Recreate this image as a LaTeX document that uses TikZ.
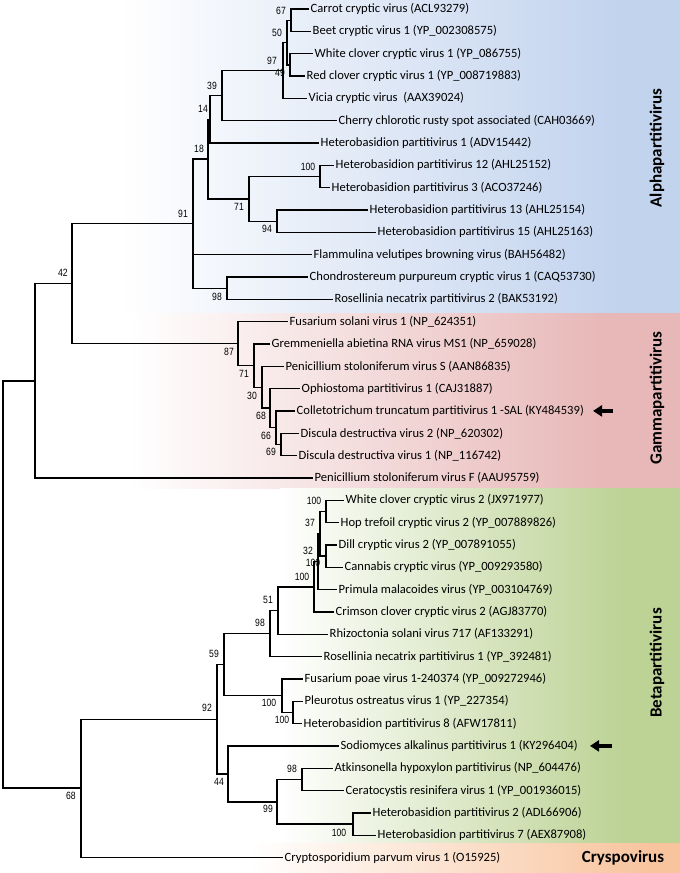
\documentclass[tikz,border=0pt]{standalone}
\usepackage{fontspec}
\setmainfont{Carlito}
\newfontfamily\bsfont[FakeStretch=0.82]{Liberation Sans}
\usetikzlibrary{arrows.meta}

\definecolor{alphablue}{RGB}{194,211,238}
\definecolor{gammapink}{RGB}{232,184,184}
\definecolor{betagreen}{RGB}{189,211,150}
\definecolor{cryspoorange}{RGB}{248,196,158}

\begin{document}
\begin{tikzpicture}[
    x=1pt, y=-1pt,
    >=Stealth,
    branch/.style={draw=black, line width=1.4pt, line cap=rect},
    taxon/.style={anchor=west, inner xsep=2.5pt, inner ysep=0pt, font=\fontsize{12.6}{14}\selectfont},
    bs/.style={inner sep=0pt, font=\bsfont\fontsize{10.5}{11}\selectfont},
    clade/.style={font=\fontsize{17}{18}\selectfont\bfseries},
    pointer/.style={-{Triangle[length=9pt, width=11pt]}, line width=3.5pt}
]
\useasboundingbox (0,0) rectangle (680,873);

% --- Background bands for the genera ---
\shade[left color=white, right color=alphablue] (120,0) rectangle (620,313);
\fill[alphablue] (620,0) rectangle (680,313);
\shade[left color=white, right color=gammapink] (130,313) rectangle (600,488);
\fill[gammapink] (600,313) rectangle (680,488);
\shade[left color=white, right color=betagreen] (280,488) rectangle (620,843);
\fill[betagreen] (620,488) rectangle (680,843);
\shade[left color=white, right color=cryspoorange] (250,843) rectangle (650,873);
\fill[cryspoorange] (650,843) rectangle (680,873);

% --- Taxa: Alphapartitivirus ---
\node[taxon] (carrot) at (308,9.0) {Carrot cryptic virus (ACL93279)};
\node[taxon] (beet) at (310,31.3) {Beet cryptic virus 1 (YP\_002308575)};
\node[taxon] (whiteA) at (312,53.7) {White clover cryptic virus 1 (YP\_086755)};
\node[taxon] (redA) at (304,76.0) {Red clover cryptic virus 1 (YP\_008719883)};
\node[taxon] (vicia) at (306,98.3) {Vicia cryptic virus~ (AAX39024)};
\node[taxon] (cherry) at (336,120.7) {Cherry chlorotic rusty spot associated (CAH03669)};
\node[taxon] (hetA) at (318,143.0) {Heterobasidion partitivirus 1 (ADV15442)};
\node[taxon] (hetL) at (333,165.3) {Heterobasidion partitivirus 12 (AHL25152)};
\node[taxon] (hetC) at (329,187.6) {Heterobasidion partitivirus 3 (ACO37246)};
\node[taxon] (hetM) at (367,210.0) {Heterobasidion partitivirus 13 (AHL25154)};
\node[taxon] (hetO) at (375,232.3) {Heterobasidion partitivirus 15 (AHL25163)};
\node[taxon] (flamm) at (311,254.6) {Flammulina velutipes browning virus (BAH56482)};
\node[taxon] (chondro) at (307,277.0) {Chondrostereum purpureum cryptic virus 1 (CAQ53730)};
\node[taxon] (rosB) at (332,299.3) {Rosellinia necatrix partitivirus 2 (BAK53192)};

% --- Taxa: Gammapartitivirus ---
\node[taxon] (fusS) at (287,321.6) {Fusarium solani virus 1 (NP\_624351)};
\node[taxon] (gremm) at (269,344.0) {Gremmeniella abietina RNA virus MS1 (NP\_659028)};
\node[taxon] (penS) at (283,366.3) {Penicillium stoloniferum virus S (AAN86835)};
\node[taxon] (ophio) at (299,388.6) {Ophiostoma partitivirus 1 (CAJ31887)};
\node[taxon] (colleto) at (294,410.9) {Colletotrichum truncatum partitivirus 1 -SAL (KY484539)};
\node[taxon] (discB) at (298,433.3) {Discula destructiva virus 2 (NP\_620302)};
\node[taxon] (discA) at (296,455.6) {Discula destructiva virus 1 (NP\_116742)};
\node[taxon] (penF) at (312,477.9) {Penicillium stoloniferum virus F (AAU95759)};

% --- Taxa: Betapartitivirus ---
\node[taxon] (whiteB) at (343,500.3) {White clover cryptic virus 2 (JX971977)};
\node[taxon] (hop) at (338,522.6) {Hop trefoil cryptic virus 2 (YP\_007889826)};
\node[taxon] (dill) at (336,544.9) {Dill cryptic virus 2 (YP\_007891055)};
\node[taxon] (cannabis) at (342,567.3) {Cannabis cryptic virus (YP\_009293580)};
\node[taxon] (primula) at (336,589.6) {Primula malacoides virus (YP\_003104769)};
\node[taxon] (crimson) at (333,611.9) {Crimson clover cryptic virus 2 (AGJ83770)};
\node[taxon] (rhizo) at (327,634.2) {Rhizoctonia solani virus 717 (AF133291)};
\node[taxon] (rosA) at (321,656.6) {Rosellinia necatrix partitivirus 1 (YP\_392481)};
\node[taxon] (fusP) at (302,678.9) {Fusarium poae virus 1-240374 (YP\_009272946)};
\node[taxon] (pleur) at (302,701.2) {Pleurotus ostreatus virus 1 (YP\_227354)};
\node[taxon] (hetH) at (301,723.6) {Heterobasidion partitivirus 8 (AFW17811)};
\node[taxon] (sodio) at (338,745.9) {Sodiomyces alkalinus partitivirus 1 (KY296404)};
\node[taxon] (atk) at (332,768.2) {Atkinsonella hypoxylon partitivirus (NP\_604476)};
\node[taxon] (cerato) at (343,790.5) {Ceratocystis resinifera virus 1 (YP\_001936015)};
\node[taxon] (hetB) at (370,812.9) {Heterobasidion partitivirus 2 (ADL66906)};
\node[taxon] (hetG) at (375,835.2) {Heterobasidion partitivirus 7 (AEX87908)};

% --- Taxa: Cryspovirus ---
\node[taxon] (crypto) at (282,857.5) {Cryptosporidium parvum virus 1 (O15925)};

% --- Internal nodes ---
\coordinate (a67) at (291,20.2);
\coordinate (a49) at (290,64.8);
\coordinate (a50) at (287,42.5);
\coordinate (a97) at (283,70.4);
\coordinate (a39) at (222,95.6);
\coordinate (a14) at (210,119.3);
\coordinate (a100) at (320,176.5);
\coordinate (a94) at (277,221.2);
\coordinate (a71) at (249,198.8);
\coordinate (a18) at (208,159.0);
\coordinate (a98) at (227,288.2);
\coordinate (a91) at (193,223.6);

\coordinate (g69) at (281,444.4);
\coordinate (g66) at (276,427.7);
\coordinate (g68) at (270,408.1);
\coordinate (g30) at (262,387.2);
\coordinate (g71) at (254,365.6);
\coordinate (g87) at (238,343.6);
\coordinate (n42) at (72,283.6);
\coordinate (n35) at (35,380.8);

\coordinate (b100a) at (326,511.4);
\coordinate (b100b) at (326,556.1);
\coordinate (b37) at (320,533.8);
\coordinate (b32) at (318,561.7);
\coordinate (b100c) at (314,586.8);
\coordinate (b51) at (278,610.5);
\coordinate (b98) at (270,633.6);
\coordinate (b100e) at (293,712.4);
\coordinate (b100d) at (282,695.7);
\coordinate (b59) at (224,664.7);
\coordinate (b98b) at (302,779.4);
\coordinate (b100f) at (353,824.1);
\coordinate (b99) at (277,801.8);
\coordinate (b44) at (228,773.9);
\coordinate (b92) at (217,719.3);
\coordinate (b68) at (81,788.4);
\coordinate (root) at (3,584.6);

% --- Branches ---
\draw[branch] (a67) |- (carrot.west) (a67) |- (beet.west);
\draw[branch] (a49) |- (whiteA.west) (a49) |- (redA.west);
\draw[branch] (a50) |- (a67) (a50) |- (a49);
\draw[branch] (a97) |- (a50) (a97) |- (vicia.west);
\draw[branch] (a39) |- (a97) (a39) |- (cherry.west);
\draw[branch] (a14) |- (a39) (a14) |- (hetA.west);
\draw[branch] (a100) |- (hetL.west) (a100) |- (hetC.west);
\draw[branch] (a94) |- (hetM.west) (a94) |- (hetO.west);
\draw[branch] (a71) |- (a100) (a71) |- (a94);
\draw[branch] (a18) |- (a14) (a18) |- (a71);
\draw[branch] (a98) |- (chondro.west) (a98) |- (rosB.west);
\draw[branch] (a91) |- (a18) (a91) |- (flamm.west) (a91) |- (a98);

\draw[branch] (g69) |- (discB.west) (g69) |- (discA.west);
\draw[branch] (g66) |- (colleto.west) (g66) |- (g69);
\draw[branch] (g68) |- (ophio.west) (g68) |- (g66);
\draw[branch] (g30) |- (penS.west) (g30) |- (g68);
\draw[branch] (g71) |- (gremm.west) (g71) |- (g30);
\draw[branch] (g87) |- (fusS.west) (g87) |- (g71);
\draw[branch] (n42) |- (a91) (n42) |- (g87);
\draw[branch] (n35) |- (n42) (n35) |- (penF.west);

\draw[branch] (b100a) |- (whiteB.west) (b100a) |- (hop.west);
\draw[branch] (b100b) |- (dill.west) (b100b) |- (cannabis.west);
\draw[branch] (b37) |- (b100a) (b37) |- (b100b);
\draw[branch] (b32) |- (b37) (b32) |- (primula.west);
\draw[branch] (b100c) |- (b32) (b100c) |- (crimson.west);
\draw[branch] (b51) |- (b100c) (b51) |- (rhizo.west);
\draw[branch] (b98) |- (b51) (b98) |- (rosA.west);
\draw[branch] (b100e) |- (pleur.west) (b100e) |- (hetH.west);
\draw[branch] (b100d) |- (fusP.west) (b100d) |- (b100e);
\draw[branch] (b59) |- (b98) (b59) |- (b100d);
\draw[branch] (b98b) |- (atk.west) (b98b) |- (cerato.west);
\draw[branch] (b100f) |- (hetB.west) (b100f) |- (hetG.west);
\draw[branch] (b99) |- (b98b) (b99) |- (b100f);
\draw[branch] (b44) |- (sodio.west) (b44) |- (b99);
\draw[branch] (b92) |- (b59) (b92) |- (b44);
\draw[branch] (b68) |- (b92) (b68) |- (crypto.west);
\draw[branch, line width=1.9pt] (root) |- (n35) (root) |- (b68);

% --- Bootstrap values ---
\node[bs] (l67) at (281,11) {67};
\node[bs] (l50) at (277,33) {50};
\node[bs] (l97) at (272,61) {97};
\node[bs] (l49) at (280,73) {49};
\node[bs] (l39) at (212,86) {39};
\node[bs] (l14) at (203,109) {14};
\node[bs] (l18) at (199,149) {18};
\node[bs] (la100) at (308,167) {100};
\node[bs] (la71) at (239,207) {71};
\node[bs] (l94) at (267,229) {94};
\node[bs] (l91) at (183,214) {91};
\node[bs] (la98) at (217,297) {98};
\node[bs] (l42) at (63,273) {42};

\node[bs] (l87) at (229,352) {87};
\node[bs] (lg71) at (244,374) {71};
\node[bs] (l30) at (252,396) {30};
\node[bs] (lg68) at (261,416) {68};
\node[bs] (l66) at (266,436) {66};
\node[bs] (l69) at (271,452) {69};

\node[bs] (lb100a) at (314,501) {100};
\node[bs] (l37) at (310,523) {37};
\node[bs] (l32) at (308,551) {32};
\node[bs] (lb100b) at (313,563) {100};
\node[bs] (lb100c) at (302,577) {100};
\node[bs] (l51) at (268,600) {51};
\node[bs] (lb98) at (260,623) {98};
\node[bs] (l59) at (214,654) {59};
\node[bs] (lb100d) at (269,703) {100};
\node[bs] (lb100e) at (282,720) {100};
\node[bs] (l92) at (207,708) {92};
\node[bs] (l44) at (219,782) {44};
\node[bs] (l99) at (268,809) {99};
\node[bs] (lb98b) at (292,769) {98};
\node[bs] (lb100f) at (339,833) {100};
\node[bs] (lb68) at (71,796) {68};

% --- Genus names ---
\node[clade, rotate=90] (alphaname) at (657,148) {Alphapartitivirus};
\node[clade, rotate=90] (gammaname) at (657,398) {Gammapartitivirus};
\node[clade, rotate=90] (betaname) at (657,663) {Betapartitivirus};
\node[clade] (cryspname) at (623,858) {Cryspovirus};

% --- Markers for the new sequences ---
\coordinate (pin1 tail) at (613,410.9);
\coordinate (pin1 head) at (593,410.9);
\coordinate (pin2 tail) at (612,745.9);
\coordinate (pin2 head) at (590,745.9);
\draw[pointer] (pin1 tail) -- (pin1 head);
\draw[pointer] (pin2 tail) -- (pin2 head);

\end{tikzpicture}
\end{document}
